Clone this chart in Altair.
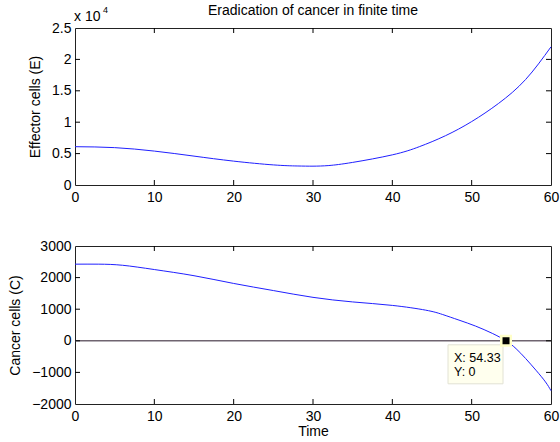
import altair as alt
import pandas as pd

# ---- data ----
t_top = [0, 5, 10, 15, 20, 25, 28, 30, 32, 35, 40, 43.4, 46.7, 50, 53.4, 56.8, 60]
E_top = [0.61, 0.595, 0.54, 0.46, 0.38, 0.32, 0.303, 0.30, 0.31, 0.36, 0.48, 0.61, 0.785, 1.01, 1.30, 1.68, 2.20]  # x10^4

t_bot = [0, 3, 6, 10, 15, 20, 25, 30, 35, 40, 44.2, 46.3, 48.4, 50.5, 52.6, 54.33, 55.6, 56.8, 58.1, 59.3, 60]
C_bot = [2425, 2425, 2390, 2255, 2060, 1815, 1590, 1375, 1230, 1120, 970, 835, 655, 465, 235, 0, -250, -560, -930, -1300, -1580]

x_ticks = [0, 10, 20, 30, 40, 50, 60]
y_ticks_top = [0, 0.5, 1, 1.5, 2, 2.5]
y_ticks_bot = [-2000, -1000, 0, 1000, 2000, 3000]

title_text = ["Eradication of cancer in finite time"]
exp_text = ["x 10", "4"]
tip_x = [54.33]
tip_y = [0]
tip_lines = ["X: 54.33", "Y: 0"]

FONT = "Liberation Sans"
FS = 14
W, H1, H2 = 476, 157, 158
LINE = "#2020ff"
TICK = 5

df_top = pd.DataFrame({"t": t_top, "E": E_top})
df_bot = pd.DataFrame({"t": t_bot, "C": C_bot})
xt_df = pd.DataFrame({"v": x_ticks[1:-1]})
yt1_df = pd.DataFrame({"v": y_ticks_top[1:-1]})
yt2_df = pd.DataFrame({"v": y_ticks_bot[1:-1]})

xscale = alt.Scale(domain=[0, 60], nice=False, zero=False)
y1scale = alt.Scale(domain=[0, 2.5], nice=False)
y2scale = alt.Scale(domain=[-2000, 3000], nice=False)


def xaxis(title=None):
    kw = dict(values=x_ticks, ticks=False, domain=False, labelPadding=5, labelOverlap=False,
              labelFlush=False, labelFontSize=FS, labelFont=FONT, labelColor="black",
              grid=False, format="d", titleFontSize=FS, titleFont=FONT,
              titleFontWeight="normal", titleColor="black", titlePadding=1)
    kw["title"] = title if title else ""
    return alt.Axis(**kw)


def yaxis(title, vals, fmt):
    return alt.Axis(values=vals, ticks=False, domain=False, labelPadding=4, labelOverlap=False,
                    labelFlush=False, labelFontSize=FS, labelFont=FONT, labelColor="black",
                    grid=False, format=fmt,
                    title=title, titleFontSize=FS, titleFont=FONT,
                    titleFontWeight="normal", titleColor="black", titlePadding=9)


AX_TOP = xaxis()
AX_BOT = xaxis("Time")
AY_TOP = yaxis("Effector cells (E)", y_ticks_top, "~g")
AY_BOT = yaxis("Cancer cells (C)", y_ticks_bot, "d")


def inward_ticks(h, xs, ys, yscale, ax, ay):
    bottom = alt.Chart(xs).mark_rule(color="black", strokeWidth=1).encode(
        x=alt.X("v:Q", scale=xscale, axis=ax), y=alt.value(h), y2=alt.value(h - TICK))
    top = alt.Chart(xs).mark_rule(color="black", strokeWidth=1).encode(
        x=alt.X("v:Q", scale=xscale, axis=ax), y=alt.value(0), y2=alt.value(TICK))
    left = alt.Chart(ys).mark_rule(color="black", strokeWidth=1).encode(
        y=alt.Y("v:Q", scale=yscale, axis=ay), x=alt.value(0), x2=alt.value(TICK))
    right = alt.Chart(ys).mark_rule(color="black", strokeWidth=1).encode(
        y=alt.Y("v:Q", scale=yscale, axis=ay), x=alt.value(W - TICK), x2=alt.value(W))
    return [bottom, top, left, right]


# ---- top panel ----
line_top = alt.Chart(df_top).mark_line(color=LINE, strokeWidth=1, interpolate="natural").encode(
    x=alt.X("t:Q", scale=xscale, axis=AX_TOP),
    y=alt.Y("E:Q", scale=y1scale, axis=AY_TOP),
)
title_df = pd.DataFrame({"txt": title_text})
title_mark = alt.Chart(title_df).mark_text(font=FONT, fontSize=FS, align="center", baseline="middle",
                                           color="black").encode(
    text="txt:N", x=alt.value(W / 2), y=alt.value(-17))
exp_df = pd.DataFrame({"base": [exp_text[0]], "exp": [exp_text[1]]})
exp_base = alt.Chart(exp_df).mark_text(font=FONT, fontSize=FS, align="left", baseline="alphabetic",
                                       color="black").encode(
    text="base:N", x=alt.value(-1), y=alt.value(-7))
exp_pow = alt.Chart(exp_df).mark_text(font=FONT, fontSize=9, align="left", baseline="alphabetic",
                                      color="black").encode(
    text="exp:N", x=alt.value(28), y=alt.value(-15))

top = alt.layer(line_top, *inward_ticks(H1, xt_df, yt1_df, y1scale, AX_TOP, AY_TOP),
                title_mark, exp_base, exp_pow).properties(width=W, height=H1)

# ---- bottom panel ----
zero_df = pd.DataFrame({"y": [0]})
zero_line = alt.Chart(zero_df).mark_rule(color="#6f6470", strokeWidth=1.5).encode(
    y=alt.Y("y:Q", scale=y2scale, axis=AY_BOT))
line_bot = alt.Chart(df_bot).mark_line(color=LINE, strokeWidth=1, interpolate="natural").encode(
    x=alt.X("t:Q", scale=xscale, axis=AX_BOT),
    y=alt.Y("C:Q", scale=y2scale, axis=AY_BOT),
)
tip_df = pd.DataFrame({"x": tip_x, "y": tip_y})
tip_box = alt.Chart(tip_df).mark_rect(
    fill="#ffffee", stroke="#e2e2d4", strokeWidth=1,
    xOffset=-58, x2Offset=-3, yOffset=4, y2Offset=43,
).encode(x=alt.X("x:Q", scale=xscale, axis=AX_BOT), x2="x:Q",
         y=alt.Y("y:Q", scale=y2scale, axis=AY_BOT), y2="y:Q")
tip_marker = alt.Chart(tip_df).mark_square(
    size=90, fill="black", opacity=1, stroke="#ffffc8", strokeWidth=2.5
).encode(x=alt.X("x:Q", scale=xscale, axis=AX_BOT), y=alt.Y("y:Q", scale=y2scale, axis=AY_BOT))
tip_text_df = pd.DataFrame({"x": tip_x * 2, "y": tip_y * 2, "txt": tip_lines, "row": [0, 1]})
tip_t1 = alt.Chart(tip_text_df[tip_text_df.row == 0]).mark_text(
    font=FONT, fontSize=12.5, align="left", baseline="middle", dx=-52, dy=17, color="black"
).encode(x=alt.X("x:Q", scale=xscale, axis=AX_BOT), y=alt.Y("y:Q", scale=y2scale, axis=AY_BOT), text="txt:N")
tip_t2 = alt.Chart(tip_text_df[tip_text_df.row == 1]).mark_text(
    font=FONT, fontSize=12.5, align="left", baseline="middle", dx=-52, dy=31, color="black"
).encode(x=alt.X("x:Q", scale=xscale, axis=AX_BOT), y=alt.Y("y:Q", scale=y2scale, axis=AY_BOT), text="txt:N")

bottom = alt.layer(zero_line, line_bot, *inward_ticks(H2, xt_df, yt2_df, y2scale, AX_BOT, AY_BOT),
                   tip_box, tip_marker, tip_t1, tip_t2).properties(width=W, height=H2)

chart = alt.vconcat(top, bottom, spacing=33).properties(
    padding={"left": 8, "top": 3, "right": 0, "bottom": 0},
    background="white",
).configure_view(stroke="#222222", strokeWidth=1)

chart.save("out.html", embed_options={"renderer": "svg", "actions": False})
